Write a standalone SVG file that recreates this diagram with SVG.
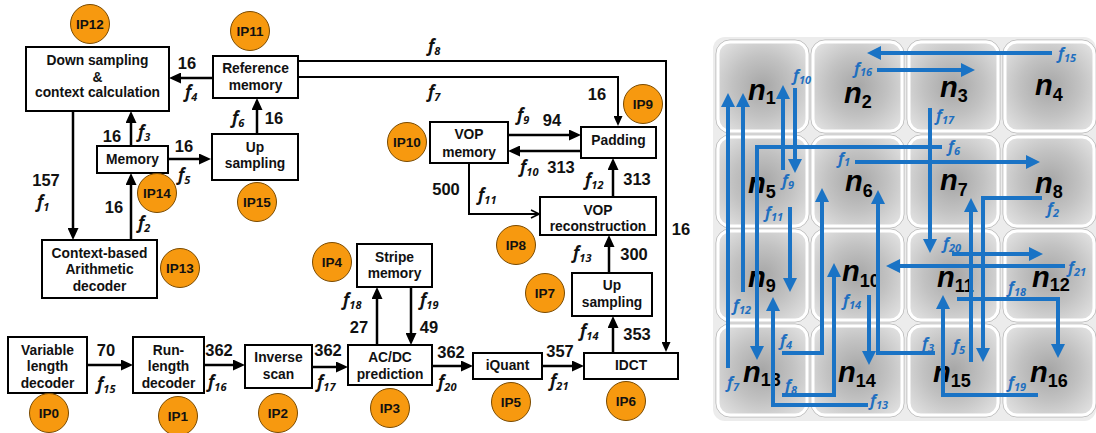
<svg xmlns="http://www.w3.org/2000/svg" width="1096" height="433" viewBox="0 0 1096 433">
<defs>
<style>
.box{fill:#fff;stroke:#000;stroke-width:2}
.bt{font-family:"Liberation Sans",Arial,sans-serif;font-weight:bold;font-size:13.8px;text-anchor:middle;fill:#111}
.ipc{fill:#F7990F;stroke:#7a4a00;stroke-width:1}
.ipt{font-family:"Liberation Sans",Arial,sans-serif;font-weight:bold;font-size:13.5px;text-anchor:middle;fill:#111}
.num{font-family:"Liberation Sans",Arial,sans-serif;font-weight:bold;font-size:16.5px;text-anchor:middle;fill:#111}
.fl{font-family:"Open Sans","Noto Sans",sans-serif;font-style:italic;font-weight:bold;font-size:17px;fill:#111}
.fb{font-family:"Open Sans","Noto Sans",sans-serif;font-style:italic;font-weight:bold;font-size:16px;fill:#1F6FBF}
.s{font-size:11px}
.c{stroke:#000;stroke-width:2.5;fill:none}
.ct{stroke:#000;stroke-width:2;fill:none}
.bl{stroke:#1A73C5;stroke-width:4;fill:none}
.tile{fill:url(#tg);stroke:#fff;stroke-width:3}
.tol{fill:none;stroke:#b9b9b9;stroke-width:1}
.nl{font-family:"Liberation Sans",Arial,sans-serif;font-weight:bold;font-style:italic;font-size:29px;fill:#000}
.ns{font-style:normal;font-weight:bold;font-size:18px}
</style>
<radialGradient id="tg" cx="50%" cy="50%" r="62%">
<stop offset="0" stop-color="#a6a6a6"/>
<stop offset="0.55" stop-color="#c2c2c2"/>
<stop offset="1" stop-color="#dedede"/>
</radialGradient>
<marker id="ab" markerUnits="userSpaceOnUse" markerWidth="12" markerHeight="11" viewBox="0 0 12 11" refX="8" refY="5.5" orient="auto"><path d="M0,0 L12,5.5 L0,11 z" fill="#000"/></marker>
<marker id="as" markerUnits="userSpaceOnUse" markerWidth="10" markerHeight="9" viewBox="0 0 10 9" refX="7" refY="4.5" orient="auto"><path d="M0,0 L10,4.5 L0,9 z" fill="#000"/></marker>
<marker id="ao" markerUnits="userSpaceOnUse" markerWidth="10" markerHeight="10" viewBox="0 0 10 10" refX="9" refY="5" orient="auto"><path d="M1,1 L9,5 L1,9" fill="none" stroke="#000" stroke-width="1.6"/></marker>
<marker id="bb" markerUnits="userSpaceOnUse" markerWidth="14" markerHeight="14" viewBox="0 0 14 14" refX="8" refY="7" orient="auto"><path d="M0,0 L14,7 L0,14 z" fill="#1A73C5"/></marker>
</defs>
<rect width="1096" height="433" fill="#fff"/>

<!-- LEFT DIAGRAM NODES -->
<g id="ip12"><rect class="box" x="26" y="47" width="143" height="64"/><text class="bt" x="97.5" y="65">Down sampling</text><text class="bt" x="97.5" y="82">&amp;</text><text class="bt" x="97.5" y="97">context calculation</text><circle class="ipc" cx="90" cy="24" r="19.5"/><text class="ipt" x="90" y="29">IP12</text></g>
<g id="ip11"><rect class="box" x="213" y="56" width="85" height="42"/><text class="bt" x="255.5" y="73">Reference</text><text class="bt" x="255.5" y="90">memory</text><circle class="ipc" cx="250" cy="31" r="19.5"/><text class="ipt" x="250" y="36">IP11</text></g>
<g id="ip14"><rect class="box" x="97" y="146" width="71" height="27"/><text class="bt" x="132.5" y="164">Memory</text><circle class="ipc" cx="157" cy="193" r="19.5"/><text class="ipt" x="157" y="198">IP14</text></g>
<g id="ip15"><rect class="box" x="212" y="134" width="86" height="46"/><text class="bt" x="255" y="152">Up</text><text class="bt" x="255" y="168">sampling</text><circle class="ipc" cx="257" cy="202" r="19.5"/><text class="ipt" x="257" y="207">IP15</text></g>
<g id="ip13"><rect class="box" x="42" y="240" width="115" height="58"/><text class="bt" x="99.5" y="258">Context-based</text><text class="bt" x="99.5" y="274">Arithmetic</text><text class="bt" x="99.5" y="291">decoder</text><circle class="ipc" cx="180" cy="268" r="19.5"/><text class="ipt" x="180" y="273">IP13</text></g>
<g id="ip10"><rect class="box" x="430" y="122" width="78" height="41"/><text class="bt" x="469" y="139">VOP</text><text class="bt" x="469" y="157">memory</text><circle class="ipc" cx="407" cy="142" r="19.5"/><text class="ipt" x="407" y="147">IP10</text></g>
<g id="ip9"><rect class="box" x="581" y="127" width="75" height="31"/><text class="bt" x="618.5" y="145">Padding</text><circle class="ipc" cx="643" cy="104" r="19.5"/><text class="ipt" x="643" y="109">IP9</text></g>
<g id="ip8"><rect class="box" x="540" y="197" width="116" height="38"/><text class="bt" x="598" y="215">VOP</text><text class="bt" x="598" y="231">reconstruction</text><circle class="ipc" cx="516" cy="245" r="19.5"/><text class="ipt" x="516" y="250">IP8</text></g>
<g id="ip7"><rect class="box" x="572" y="273" width="80" height="43"/><text class="bt" x="612" y="290">Up</text><text class="bt" x="612" y="307">sampling</text><circle class="ipc" cx="545" cy="293" r="19.5"/><text class="ipt" x="545" y="298">IP7</text></g>
<g id="ip4"><rect class="box" x="357" y="244" width="75" height="43"/><text class="bt" x="394.5" y="262">Stripe</text><text class="bt" x="394.5" y="278">memory</text><circle class="ipc" cx="332" cy="262" r="19.5"/><text class="ipt" x="332" y="267">IP4</text></g>
<g id="ip3"><rect class="box" x="348" y="345" width="84" height="40"/><text class="bt" x="390" y="362">AC/DC</text><text class="bt" x="390" y="379">prediction</text><circle class="ipc" cx="390" cy="408" r="19.5"/><text class="ipt" x="390" y="413">IP3</text></g>
<g id="ip5"><rect class="box" x="473" y="353" width="69" height="26"/><text class="bt" x="507.5" y="370">iQuant</text><circle class="ipc" cx="511" cy="402" r="19.5"/><text class="ipt" x="511" y="407">IP5</text></g>
<g id="ip6"><rect class="box" x="584" y="353" width="94" height="26"/><text class="bt" x="631" y="370">IDCT</text><circle class="ipc" cx="626" cy="401" r="19.5"/><text class="ipt" x="626" y="406">IP6</text></g>
<g id="ip0"><rect class="box" x="8" y="337" width="79" height="56"/><text class="bt" x="47.5" y="355">Variable</text><text class="bt" x="47.5" y="371">length</text><text class="bt" x="47.5" y="388">decoder</text><circle class="ipc" cx="49" cy="413" r="19.5"/><text class="ipt" x="49" y="418">IP0</text></g>
<g id="ip1"><rect class="box" x="133" y="337" width="71" height="56"/><text class="bt" x="168.5" y="355">Run-</text><text class="bt" x="168.5" y="371">length</text><text class="bt" x="168.5" y="388">decoder</text><circle class="ipc" cx="178" cy="416" r="19.5"/><text class="ipt" x="178" y="421">IP1</text></g>
<g id="ip2"><rect class="box" x="245" y="345" width="67" height="43"/><text class="bt" x="278.5" y="362">Inverse</text><text class="bt" x="278.5" y="379">scan</text><circle class="ipc" cx="278" cy="413" r="19.5"/><text class="ipt" x="278" y="418">IP2</text></g>

<!-- LEFT CONNECTORS -->
<g id="connectors-left">
<path class="c" d="M213,78 H173" marker-end="url(#ab)"/>
<path class="ct" d="M298,61 H666 V349" marker-end="url(#as)"/>
<path class="ct" d="M298,77 H618 V123" marker-end="url(#as)"/>
<path class="c" d="M131,146 V115" marker-end="url(#ab)"/>
<path class="c" d="M131,240 V177" marker-end="url(#ab)"/>
<path class="c" d="M168,159 H207" marker-end="url(#ab)"/>
<path class="c" d="M257,134 V102" marker-end="url(#ab)"/>
<path class="c" d="M73,111 V236" marker-end="url(#ab)"/>
<path class="c" d="M508,135 H577" marker-end="url(#ab)"/>
<path class="c" d="M581,151 H512" marker-end="url(#ab)"/>
<path class="ct" d="M469,163 V214 H539" marker-end="url(#ao)"/>
<path class="c" d="M613,197 V162" marker-end="url(#ab)"/>
<path class="c" d="M609,273 V239" marker-end="url(#ab)"/>
<path class="c" d="M613,353 V320" marker-end="url(#ab)"/>
<path class="c" d="M87,365 H129" marker-end="url(#ab)"/>
<path class="c" d="M204,365 H241" marker-end="url(#ab)"/>
<path class="c" d="M312,367 H344" marker-end="url(#ab)"/>
<path class="c" d="M377,345 V291" marker-end="url(#ab)"/>
<path class="c" d="M411,287 V341" marker-end="url(#ab)"/>
<path class="c" d="M432,366 H469" marker-end="url(#ab)"/>
<path class="c" d="M542,366 H580" marker-end="url(#ab)"/>
</g>

<g id="labels-left">
<text class="num" x="187" y="69">16</text>
<text class="num" x="274" y="124">16</text>
<text class="num" x="112" y="142">16</text>
<text class="num" x="184" y="152">16</text>
<text class="num" x="46" y="186">157</text>
<text class="num" x="114" y="213">16</text>
<text class="num" x="597" y="100">16</text>
<text class="num" x="552" y="126">94</text>
<text class="num" x="561" y="173">313</text>
<text class="num" x="637" y="185">313</text>
<text class="num" x="446" y="195">500</text>
<text class="num" x="681" y="235">16</text>
<text class="num" x="634" y="260">300</text>
<text class="num" x="637" y="340">353</text>
<text class="num" x="359" y="333">27</text>
<text class="num" x="429" y="333">49</text>
<text class="num" x="451" y="358">362</text>
<text class="num" x="560" y="357">357</text>
<text class="num" x="106" y="356">70</text>
<text class="num" x="219" y="356">362</text>
<text class="num" x="328" y="356">362</text>
<text class="fl" x="185" y="98">f<tspan class="s" dy="3">4</tspan></text>
<text class="fl" x="232" y="124">f<tspan class="s" dy="3">6</tspan></text>
<text class="fl" x="138" y="138">f<tspan class="s" dy="3">3</tspan></text>
<text class="fl" x="178" y="181">f<tspan class="s" dy="3">5</tspan></text>
<text class="fl" x="37" y="208">f<tspan class="s" dy="3">1</tspan></text>
<text class="fl" x="138" y="229">f<tspan class="s" dy="3">2</tspan></text>
<text class="fl" x="428" y="52">f<tspan class="s" dy="3">8</tspan></text>
<text class="fl" x="428" y="98">f<tspan class="s" dy="3">7</tspan></text>
<text class="fl" x="517" y="121">f<tspan class="s" dy="3">9</tspan></text>
<text class="fl" x="520" y="173">f<tspan class="s" dy="3">10</tspan></text>
<text class="fl" x="585" y="186">f<tspan class="s" dy="3">12</tspan></text>
<text class="fl" x="478" y="201">f<tspan class="s" dy="3">11</tspan></text>
<text class="fl" x="573" y="259">f<tspan class="s" dy="3">13</tspan></text>
<text class="fl" x="580" y="337">f<tspan class="s" dy="3">14</tspan></text>
<text class="fl" x="343" y="306">f<tspan class="s" dy="3">18</tspan></text>
<text class="fl" x="420" y="306">f<tspan class="s" dy="3">19</tspan></text>
<text class="fl" x="438" y="388">f<tspan class="s" dy="3">20</tspan></text>
<text class="fl" x="550" y="387">f<tspan class="s" dy="3">21</tspan></text>
<text class="fl" x="97" y="390">f<tspan class="s" dy="3">15</tspan></text>
<text class="fl" x="208" y="388">f<tspan class="s" dy="3">16</tspan></text>
<text class="fl" x="317" y="388">f<tspan class="s" dy="3">17</tspan></text>
</g>

<!-- RIGHT GRID -->
<rect x="713" y="37" width="383" height="384" rx="12" fill="#ececec"/>
<g id="n1"><rect class="tol" x="716" y="40" width="93" height="93" rx="14"/><rect class="tile" x="718" y="42" width="89" height="89" rx="12"/><text class="nl" x="748" y="100">n<tspan class="ns" dy="4">1</tspan></text></g>
<g id="n2"><rect class="tol" x="811" y="40" width="93" height="93" rx="14"/><rect class="tile" x="813" y="42" width="89" height="89" rx="12"/><text class="nl" x="844" y="103">n<tspan class="ns" dy="5">2</tspan></text></g>
<g id="n3"><rect class="tol" x="907" y="40" width="93" height="93" rx="14"/><rect class="tile" x="909" y="42" width="89" height="89" rx="12"/><text class="nl" x="940" y="97">n<tspan class="ns" dy="5">3</tspan></text></g>
<g id="n4"><rect class="tol" x="1003" y="40" width="93" height="93" rx="14"/><rect class="tile" x="1005" y="42" width="89" height="89" rx="12"/><text class="nl" x="1035" y="95">n<tspan class="ns" dy="6">4</tspan></text></g>
<g id="n5"><rect class="tol" x="716" y="135" width="93" height="93" rx="14"/><rect class="tile" x="718" y="137" width="89" height="89" rx="12"/><text class="nl" x="748" y="193">n<tspan class="ns" dy="5">5</tspan></text></g>
<g id="n6"><rect class="tol" x="811" y="135" width="93" height="93" rx="14"/><rect class="tile" x="813" y="137" width="89" height="89" rx="12"/><text class="nl" x="845" y="191">n<tspan class="ns" dy="6">6</tspan></text></g>
<g id="n7"><rect class="tol" x="907" y="135" width="93" height="93" rx="14"/><rect class="tile" x="909" y="137" width="89" height="89" rx="12"/><text class="nl" x="940" y="190">n<tspan class="ns" dy="6">7</tspan></text></g>
<g id="n8"><rect class="tol" x="1003" y="135" width="93" height="93" rx="14"/><rect class="tile" x="1005" y="137" width="89" height="89" rx="12"/><text class="nl" x="1035" y="193">n<tspan class="ns" dy="5">8</tspan></text></g>
<g id="n9"><rect class="tol" x="716" y="229" width="93" height="93" rx="14"/><rect class="tile" x="718" y="231" width="89" height="89" rx="12"/><text class="nl" x="748" y="287">n<tspan class="ns" dy="5">9</tspan></text></g>
<g id="n10"><rect class="tol" x="811" y="229" width="93" height="93" rx="14"/><rect class="tile" x="813" y="231" width="89" height="89" rx="12"/><text class="nl" x="842" y="281">n<tspan class="ns" dy="6">10</tspan></text></g>
<g id="n11"><rect class="tol" x="907" y="229" width="93" height="93" rx="14"/><rect class="tile" x="909" y="231" width="89" height="89" rx="12"/><text class="nl" x="937" y="287">n<tspan class="ns" dy="5">11</tspan></text></g>
<g id="n12"><rect class="tol" x="1003" y="229" width="93" height="93" rx="14"/><rect class="tile" x="1005" y="231" width="89" height="89" rx="12"/><text class="nl" x="1032" y="287">n<tspan class="ns" dy="4">12</tspan></text></g>
<g id="n13"><rect class="tol" x="716" y="324" width="93" height="93" rx="14"/><rect class="tile" x="718" y="326" width="89" height="89" rx="12"/><text class="nl" x="743" y="382">n<tspan class="ns" dy="4">13</tspan></text></g>
<g id="n14"><rect class="tol" x="811" y="324" width="93" height="93" rx="14"/><rect class="tile" x="813" y="326" width="89" height="89" rx="12"/><text class="nl" x="838" y="382">n<tspan class="ns" dy="5">14</tspan></text></g>
<g id="n15"><rect class="tol" x="907" y="324" width="93" height="93" rx="14"/><rect class="tile" x="909" y="326" width="89" height="89" rx="12"/><text class="nl" x="933" y="382">n<tspan class="ns" dy="5">15</tspan></text></g>
<g id="n16"><rect class="tol" x="1003" y="324" width="93" height="93" rx="14"/><rect class="tile" x="1005" y="326" width="89" height="89" rx="12"/><text class="nl" x="1030" y="382">n<tspan class="ns" dy="5">16</tspan></text></g>

<g id="connectors-right">
<path class="bl" d="M1052,53 H873" marker-end="url(#bb)"/>
<path class="bl" d="M877,70 H969" marker-end="url(#bb)"/>
<path class="bl" d="M930,108 V247" marker-end="url(#bb)"/>
<path class="bl" d="M942,147 H757 V354" marker-end="url(#bb)"/>
<path class="bl" d="M728,368 V99" marker-end="url(#bb)"/>
<path class="bl" d="M743,292 V99" marker-end="url(#bb)"/>
<path class="bl" d="M795,88 V167" marker-end="url(#bb)"/>
<path class="bl" d="M783,170 V91" marker-end="url(#bb)"/>
<path class="bl" d="M790,207 V286" marker-end="url(#bb)"/>
<path class="bl" d="M855,162 H1034" marker-end="url(#bb)"/>
<path class="bl" d="M782,353 H822 V194" marker-end="url(#bb)"/>
<path class="bl" d="M935,353 H878 V196" marker-end="url(#bb)"/>
<path class="bl" d="M869,295 V359" marker-end="url(#bb)"/>
<path class="bl" d="M782,395 H834 V269" marker-end="url(#bb)"/>
<path class="bl" d="M868,405 H773 V303" marker-end="url(#bb)"/>
<path class="bl" d="M1065,266 H892" marker-end="url(#bb)"/>
<path class="bl" d="M952,254 H1037" marker-end="url(#bb)"/>
<path class="bl" d="M957,299 H1058 V352" marker-end="url(#bb)"/>
<path class="bl" d="M1038,395 H943 V301" marker-end="url(#bb)"/>
<path class="bl" d="M971,362 V204" marker-end="url(#bb)"/>
<path class="bl" d="M1042,198 H983 V356" marker-end="url(#bb)"/>
</g>

<g id="labels-right">
<text class="fb" x="1058" y="59">f<tspan class="s" dy="3">15</tspan></text>
<text class="fb" x="854" y="74">f<tspan class="s" dy="2">16</tspan></text>
<text class="fb" x="793" y="81">f<tspan class="s" dy="3">10</tspan></text>
<text class="fb" x="782" y="186">f<tspan class="s" dy="3">9</tspan></text>
<text class="fb" x="765" y="218">f<tspan class="s" dy="3">11</tspan></text>
<text class="fb" x="838" y="164">f<tspan class="s" dy="2">1</tspan></text>
<text class="fb" x="936" y="121">f<tspan class="s" dy="3">17</tspan></text>
<text class="fb" x="948" y="152">f<tspan class="s" dy="3">6</tspan></text>
<text class="fb" x="1047" y="214">f<tspan class="s" dy="3">2</tspan></text>
<text class="fb" x="733" y="311">f<tspan class="s" dy="3">12</tspan></text>
<text class="fb" x="843" y="306">f<tspan class="s" dy="3">14</tspan></text>
<text class="fb" x="780" y="346">f<tspan class="s" dy="3">4</tspan></text>
<text class="fb" x="727" y="388">f<tspan class="s" dy="3">7</tspan></text>
<text class="fb" x="785" y="391">f<tspan class="s" dy="3">8</tspan></text>
<text class="fb" x="870" y="406">f<tspan class="s" dy="3">13</tspan></text>
<text class="fb" x="943" y="249">f<tspan class="s" dy="3">20</tspan></text>
<text class="fb" x="1068" y="273">f<tspan class="s" dy="3">21</tspan></text>
<text class="fb" x="1008" y="293">f<tspan class="s" dy="3">18</tspan></text>
<text class="fb" x="922" y="349">f<tspan class="s" dy="3">3</tspan></text>
<text class="fb" x="953" y="351">f<tspan class="s" dy="3">5</tspan></text>
<text class="fb" x="1008" y="388">f<tspan class="s" dy="3">19</tspan></text>
</g>
</svg>
